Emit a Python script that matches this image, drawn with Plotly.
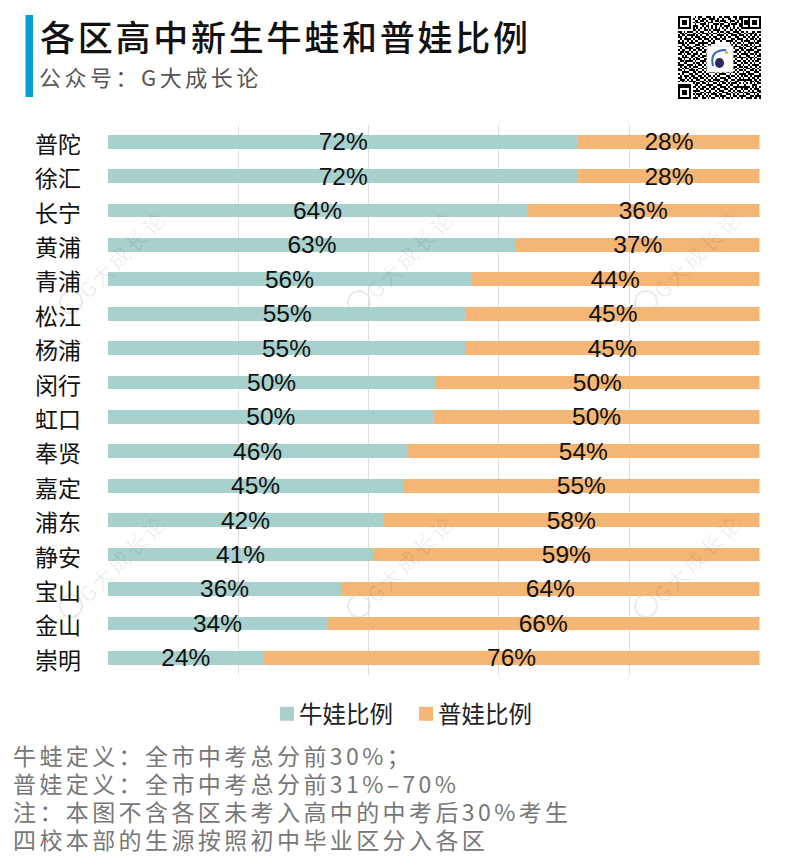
import plotly.graph_objects as go

W, H = 786, 866
L, R, T, B = 108, 759.5, 124.5, 675

# dados
distritos = ["普陀", "徐汇", "长宁", "黄浦", "青浦", "松江", "杨浦", "闵行",
             "虹口", "奉贤", "嘉定", "浦东", "静安", "宝山", "金山", "崇明"]
niuwa = [72.2, 72.2, 64.3, 62.6, 55.7, 55.0, 54.8, 50.2,
         50.0, 45.9, 45.3, 42.2, 40.7, 35.8, 33.6, 23.9]
puwa = [27.8, 27.8, 35.7, 37.4, 44.3, 45.0, 45.2, 49.8,
        50.0, 54.1, 54.7, 57.8, 59.3, 64.2, 66.4, 76.1]

titulo = "各区高中新生牛蛙和普娃比例"
subtitulo = "公众号：G大成长论"
notas = ["牛蛙定义：全市中考总分前30%；",
         "普娃定义：全市中考总分前31%–70%",
         "注：本图不含各区未考入高中的中考后30%考生",
         "四校本部的生源按照初中毕业区分入各区"]

FONTE = "Noto Sans CJK SC"
VERDE, LARANJA = "#a8d0cc", "#f4b675"

# qr code aproximado (so o aspecto, nao le)
qr = [
    "111111100101100111010011011100110111111111111",
    "100000101001011001110100100110010110000000001",
    "101110100110110100101101110011101010111011101",
    "101110101011001011100010011010011010111011101",
    "101110100100111010011101100101110110111011101",
    "100000101110010110101001011100100110000010001",
    "111111101010101010101010101010101011111111111",
    "000000001101001101011110010011010100000000000",
    "110101110010110010100101101100111011010011011",
    "011010001101011101011010010111001100101110100",
    "101101111010100110100111101001110111010101101",
    "110010010111011001011001010110011001101011010",
    "010111101001101110101110110001101110010110101",
    "101001010110010011010001001111010010111001011",
    "111010111001111100110000000010101101001110110",
    "001101000111010011000000000001010010110101001",
    "110110101100101101000000000000111101011010111",
    "010011110011010010000000000000100110100101100",
    "101100101101101100000000000001011011011110011",
    "011011010010011010000000000000110100101001110",
    "110101101110100110000000000001001011110110101",
    "001010011001011100000000000000110100011001011",
    "101111010110110010000000000001101111101110100",
    "110100101011001100000000000000010010010101011",
    "011011110100111010000000000001101101101010110",
    "100110001011010110000000000000110010110101001",
    "111001110101101000000000000001001101001011110",
    "010110101110010110000000000000110110110100101",
    "101011010001101101100000000110101001011011010",
    "110100111010010110011011010011010110100110101",
    "001111001101101001110100101101101001011001110",
    "101000110110010110001011110010010111101110001",
    "010111011001101011010110001101101010110101111",
    "110010101110110100101001110110010101001011010",
    "011101010011001011011110011001101111111101101",
    "101010111100110101100101101010011000100110110",
    "000000001011011010011010110101110101010101011",
    "111111100110100111100111001011001000100011100",
    "100000101101011001011001110100111111111010101",
    "101110100010110110110110011011010010110101110",
    "101110101111001001001011100110101101001010011",
    "101110100100110111010100111001010110110111101",
    "100000101011101010111011001110101001011001010",
    "111111100101010101001101110010110111100110111",
    "111111101110011010110010101101001010011101101",
]
qr = [[int(c) for c in linha] for linha in qr]
# padroes dos cantos
for oy, ox in [(0, 0), (0, 38), (38, 0)]:
    for i in range(7):
        for j in range(7):
            borda = i in (0, 6) or j in (0, 6)
            miolo = 2 <= i <= 4 and 2 <= j <= 4
            qr[oy + i][ox + j] = 1 if borda or miolo else 0


def px(x):
    return x / W


def py(y):
    return 1 - y / H


fig = go.Figure()

fig.add_trace(go.Bar(y=distritos, x=niuwa, orientation="h", name="牛娃比例",
                     marker=dict(color=VERDE, line_width=0), showlegend=False,
                     texttemplate="%{x:.0f}%"))
fig.add_trace(go.Bar(y=distritos, x=puwa, orientation="h", name="普娃比例",
                     marker=dict(color=LARANJA, line_width=0), showlegend=False,
                     texttemplate="%{x:.0f}%"))
fig.update_traces(textposition="inside", insidetextanchor="middle",
                  insidetextfont=dict(family="Liberation Sans", size=24.5, color="#111111"),
                  constraintext="none", textangle=0, cliponaxis=False)

# legenda com quadrados
for nome, cor in [("牛娃比例", VERDE), ("普娃比例", LARANJA)]:
    fig.add_trace(go.Scatter(x=[None], y=[None], mode="markers", name=nome,
                             marker=dict(symbol="square", size=14, color=cor)))

fig.add_trace(go.Heatmap(z=qr, xaxis="x2", yaxis="y2", showscale=False, hoverinfo="skip",
                         colorscale=[[0, "#ffffff"], [1, "#000000"]], zmin=0, zmax=1))

fig.update_layout(
    width=W, height=H, autosize=False,
    margin=dict(l=0, r=0, t=0, b=0, pad=0, autoexpand=False),
    paper_bgcolor="white", plot_bgcolor="white",
    barmode="stack", bargap=0.6,
    font=dict(family=FONTE, color="#111111"),
    xaxis=dict(domain=[px(L), px(R)], anchor="y", range=[0, 100],
               tickvals=[0, 20, 40, 60, 80, 100], showticklabels=False,
               showgrid=True, gridcolor="#dedede", gridwidth=1, zeroline=False, ticks=""),
    yaxis=dict(domain=[py(B), py(T)], anchor="x", categoryorder="array", categoryarray=distritos,
               autorange="reversed", showgrid=False, zeroline=False, showline=False, ticks="",
               ticklabelstandoff=26, ticklabelshift=-3,
               tickfont=dict(family=FONTE, size=23, color="#111111")),
    xaxis2=dict(domain=[px(678), px(761)], anchor="y2", visible=False, range=[-0.5, 44.5]),
    yaxis2=dict(domain=[py(99), py(16)], anchor="x2", visible=False, range=[44.5, -0.5]),
    legend=dict(orientation="h", x=px(267), y=py(692), xanchor="left", yanchor="top",
                itemsizing="trace", itemwidth=30, traceorder="normal",
                font=dict(family=FONTE, size=23.5, color="#222222"), bgcolor="rgba(0,0,0,0)"),
)

# barra azul do titulo
fig.add_shape(type="rect", xref="paper", yref="paper", x0=px(25.5), x1=px(33), y0=py(97), y1=py(15),
              fillcolor="#0a9fd2", line_width=0)

# logo no meio do qr
fig.add_shape(type="rect", xref="paper", yref="paper", x0=px(707), x1=px(733), y0=py(72), y1=py(46),
              fillcolor="white", line=dict(color="#e4e4e4", width=1))
fig.add_shape(type="path", xref="paper", yref="paper", line=dict(color="#2f6fb0", width=2),
              path=f"M {px(726)} {py(50)} Q {px(709)} {py(50)} {px(713)} {py(66)}")
fig.add_shape(type="circle", xref="paper", yref="paper", x0=px(715), x1=px(724), y0=py(68), y1=py(58),
              fillcolor="#2b2a63", line_width=0)
fig.add_shape(type="circle", xref="paper", yref="paper", x0=px(725), x1=px(728), y0=py(54), y1=py(51),
              fillcolor="#e8a33d", line_width=0)

# titulos e notas
fig.add_annotation(text=titulo, xref="paper", yref="paper", x=px(38), y=py(35), showarrow=False,
                   xanchor="left", yanchor="middle",
                   font=dict(family=FONTE, size=35, color="#111111", weight=500))
fig.add_annotation(text=subtitulo, xref="paper", yref="paper", x=px(37), y=py(76), showarrow=False,
                   xanchor="left", yanchor="middle",
                   font=dict(family=FONTE, size=22, color="#555555"))
for n, y in zip(notas, [755, 783, 811, 839]):
    fig.add_annotation(text=n, xref="paper", yref="paper", x=px(11), y=py(y), showarrow=False,
                       xanchor="left", yanchor="middle",
                       font=dict(family=FONTE, size=23, color="#777777"))

# marca d'agua
for cx, cy in [(122, 254), (410, 254), (697, 254), (122, 558), (410, 558), (697, 558)]:
    fig.add_annotation(text="G大成长论", xref="paper", yref="paper", x=px(cx), y=py(cy), showarrow=False,
                       xanchor="center", yanchor="middle", textangle=-45,
                       font=dict(family=FONTE, size=21, color="rgba(0,0,0,0.08)"))
    fig.add_shape(type="circle", xref="paper", yref="paper", layer="below",
                  x0=px(cx - 62), x1=px(cx - 40), y0=py(cy + 59), y1=py(cy + 37),
                  line=dict(color="#ececec", width=2))

# espacamento entre letras, plotly nao tem essa opcao
# o texto da anotacao fica centrado, entao corrige o x depois
espaco = """
document.body.style.margin = '0';
var esp = {35: 2.75, 22: 3.5, 23: 3.4, 21: 3};
document.querySelectorAll('.annotation-text').forEach(function (t) {
    var s = parseFloat(t.style.fontSize);
    if (!esp[s]) { return; }
    var antes = t.getComputedTextLength();
    t.style.letterSpacing = esp[s] + 'px';
    if (s !== 21) {
        var dif = t.getComputedTextLength() - antes;
        t.setAttribute('x', parseFloat(t.getAttribute('x')) + dif / 2);
    }
});
document.querySelectorAll('.legendtext').forEach(function (t) {
    t.setAttribute('x', parseFloat(t.getAttribute('x')) - 8);
});
"""

fig.write_html("out.html", post_script=espaco, config={"displayModeBar": False})
